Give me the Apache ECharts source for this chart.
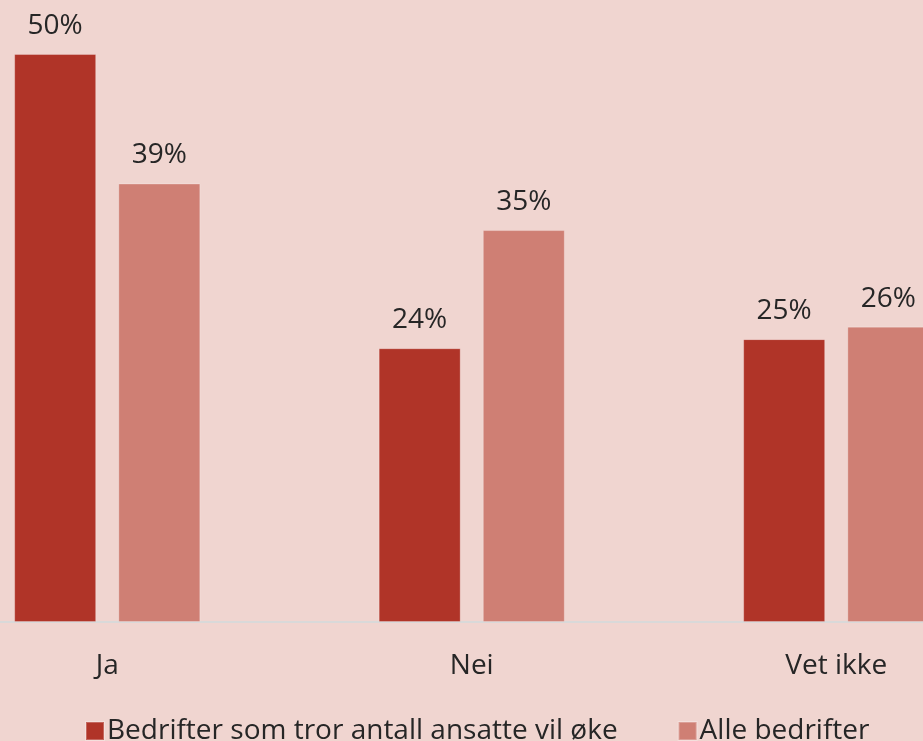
<!DOCTYPE html>
<html>
<head>
<meta charset="utf-8">
<script src="https://cdn.jsdelivr.net/npm/echarts@6/dist/echarts.min.js"></script>
<style>
  html, body { margin: 0; padding: 0; background: #F0D5D0; }
  #chart { width: 923px; height: 741px; }
</style>
</head>
<body>
<div id="chart"></div>
<script>
var categories = ['Ja', 'Nei', 'Vet ikke'];
var seriesNames = ['Bedrifter som tror antall ansatte vil øke', 'Alle bedrifter'];
// verdier lest av figuren (etikettene viser avrundet prosent)
var okeValues = [50, 24.1, 24.9];
var alleValues = [38.6, 34.5, 26];

var chart = echarts.init(document.getElementById('chart'));

var labelStyle = {
  show: true,
  position: 'top',
  distance: 14,
  fontFamily: 'Open Sans',
  fontSize: 28,
  color: '#262626',
  formatter: function (p) {
    return Math.round(p.value) + '%';
  }
};

var option = {
  backgroundColor: '#F0D5D0',
  textStyle: { fontFamily: 'Open Sans' },
  grid: {
    left: -75,
    right: -95.5,
    top: 54,
    bottom: 119,
    outerBoundsMode: 'none'
  },
  legend: {
    data: seriesNames,
    left: 80,
    top: 712,
    itemWidth: 18,
    itemHeight: 18,
    itemGap: 60,
    icon: 'rect',
    textStyle: {
      fontFamily: 'Open Sans',
      fontSize: 28,
      color: '#262626',
      padding: [0, 0, 0, -2]
    }
  },
  xAxis: {
    type: 'category',
    data: categories,
    axisLine: { show: true, lineStyle: { color: '#D9D9D9', width: 2 } },
    axisTick: { show: false },
    axisLabel: {
      margin: 30,
      fontFamily: 'Open Sans',
      fontSize: 28,
      color: '#262626'
    }
  },
  yAxis: {
    type: 'value',
    min: 0,
    max: 50,
    show: false,
    splitLine: { show: false }
  },
  series: [
    {
      name: seriesNames[0],
      type: 'bar',
      data: okeValues,
      barWidth: 82,
      barGap: '27%',
      itemStyle: { color: '#B03428', borderColor: 'rgba(255,255,255,0.25)', borderWidth: 1 },
      label: labelStyle
    },
    {
      name: seriesNames[1],
      type: 'bar',
      data: alleValues,
      barWidth: 82,
      itemStyle: { color: '#CF7F74', borderColor: 'rgba(255,255,255,0.25)', borderWidth: 1 },
      label: labelStyle
    }
  ]
};

chart.setOption(option);
</script>
</body>
</html>
